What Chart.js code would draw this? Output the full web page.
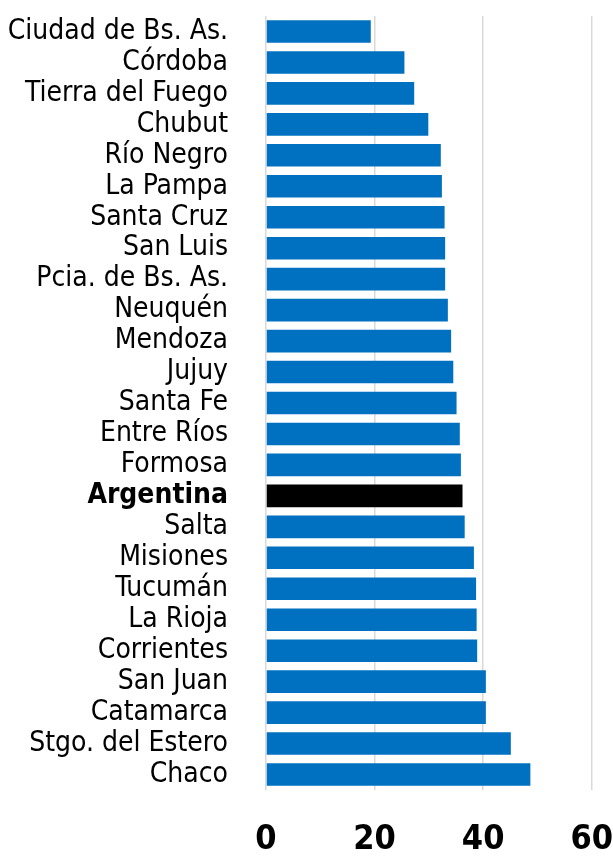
<!DOCTYPE html>
<html>
<head>
<meta charset="utf-8">
<script src="https://cdn.jsdelivr.net/npm/chart.js@4/dist/chart.umd.min.js"></script>
<style>
html,body{margin:0;padding:0;background:#fff;overflow:hidden;}
#wrap{width:613px;height:856px;position:relative;}
</style>
</head>
<body>
<div id="wrap"><canvas id="c" width="613" height="856"></canvas></div>
<script>
const categories = ["Ciudad de Bs. As.","Córdoba","Tierra del Fuego","Chubut","Río Negro","La Pampa","Santa Cruz","San Luis","Pcia. de Bs. As.","Neuquén","Mendoza","Jujuy","Santa Fe","Entre Ríos","Formosa","Argentina","Salta","Misiones","Tucumán","La Rioja","Corrientes","San Juan","Catamarca","Stgo. del Estero","Chaco"];
const values = [19.3,25.5,27.3,29.9,32.2,32.4,32.9,33.0,33.0,33.5,34.1,34.5,35.1,35.7,35.9,36.2,36.6,38.3,38.7,38.8,38.9,40.5,40.5,45.1,48.7];
const highlight = "Argentina";
const xTicks = [0,20,40,60];

const FONT = "'DejaVu Sans Condensed','Liberation Sans Narrow','Liberation Sans',sans-serif";

new Chart(document.getElementById('c'), {
  type: 'bar',
  data: {
    labels: categories,
    datasets: [{
      data: values,
      backgroundColor: categories.map(c => c === highlight ? '#000000' : '#0070C0'),
      barPercentage: 0.73,
      categoryPercentage: 1
    }]
  },
  options: {
    indexAxis: 'y',
    responsive: false,
    animation: false,
    layout: { padding: { top: 16, right: 21, left: 0, bottom: 0 } },
    plugins: { legend: { display: false }, tooltip: { enabled: false } },
    scales: {
      x: {
        min: 0, max: 60,
        afterBuildTicks: s => { s.ticks = xTicks.map(v => ({ value: v })); },
        afterFit: s => { s.height = 66; },
        grid: { color: '#d9d9d9', lineWidth: 1.5, drawTicks: true, tickLength: 33, tickColor: 'rgba(0,0,0,0)' },
        border: { display: false },
        ticks: {
          padding: 0,
          color: '#000',
          font: { family: FONT, size: 34, weight: 'bold', lineHeight: 1 }
        }
      },
      y: {
        afterFit: s => { s.width = 266; },
        grid: { display: true, drawOnChartArea: false, color: 'rgba(0,0,0,0)', drawTicks: true, tickLength: 37, tickColor: 'rgba(0,0,0,0)' },
        border: { display: false },
        ticks: {
          padding: 1,
          color: '#000',
          autoSkip: false,
          font: ctx => ({ family: FONT, size: 28, lineHeight: 1, weight: (categories[ctx.index] === highlight) ? 'bold' : 'normal' })
        }
      }
    }
  }
});
</script>
</body>
</html>
